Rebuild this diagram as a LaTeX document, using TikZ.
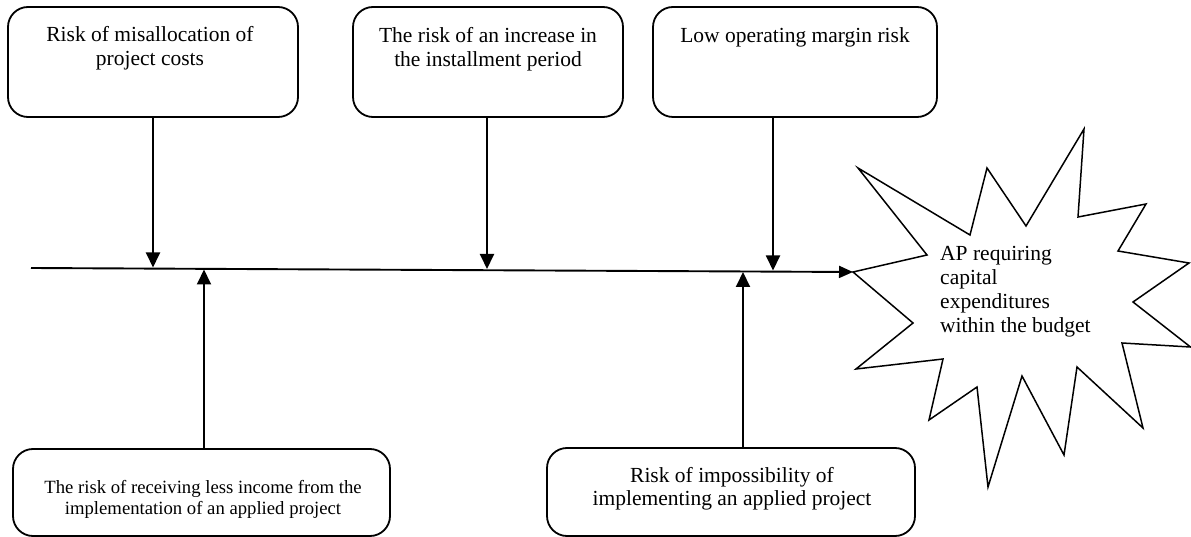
\documentclass[tikz,border=0pt]{standalone}
\usepackage{fontspec}
\setmainfont{Liberation Serif}
\usetikzlibrary{arrows.meta}
\tikzset{
  riskbox/.style={draw, line width=1.8pt, rounded corners=20pt, inner sep=0pt, minimum height=110pt},
  lowbox/.style={draw, line width=1.8pt, rounded corners=20pt, inner sep=0pt},
  txt/.style={inner sep=0pt, align=center, font={\fontsize{21.5}{23.5}\selectfont}},
  smalltxt/.style={inner sep=0pt, align=center, font={\fontsize{18.7}{21}\selectfont}},
  burst/.style={draw, line width=1.5pt, line join=miter},
  arr/.style={line width=1.9pt, -{Triangle[length=15pt,width=14pt]}},
  mainarr/.style={line width=1.9pt, -{Triangle[length=14pt,width=12pt]}}
}
\begin{document}
\begin{tikzpicture}[x=1pt,y=-1pt]
\useasboundingbox (0,0) rectangle (1191,537);
% top boxes
\node[riskbox, minimum width=290pt] (b1) at (153,62) {};
\node[riskbox, minimum width=270pt] (b2) at (488,62) {};
\node[riskbox, minimum width=284pt] (b3) at (795,62) {};
\node[txt, anchor=base] (t1) at (150,65.5) {Risk of misallocation of\\project costs};
\node[txt, anchor=base] (t2) at (488,66.5) {The risk of an increase in\\the installment period};
\node[txt, anchor=base] (t3) at (795,43) {Low operating margin risk};
% bottom boxes
\node[lowbox, minimum width=377pt, minimum height=87pt] (c1) at (201.5,492.5) {};
\node[lowbox, minimum width=368pt, minimum height=88pt] (c2) at (731,492) {};
\node[smalltxt, anchor=base] (u1) at (203,514) {The risk of receiving less income from the\\implementation of an applied project};
\node[txt, anchor=base] (u2) at (732,505.5) {Risk of impossibility of\\implementing an applied project};
% starburst
\coordinate (burstL) at (853,272);
\draw[burst] (858,168) -- (970,235) -- (987,168) -- (1026,226) -- (1084,129)
  -- (1078,217) -- (1146,204) -- (1118,251) -- (1189,263) -- (1133,302)
  -- (1190.5,347) -- (1122,343) -- (1143,428) -- (1077,367) -- (1064,455)
  -- (1022,376) -- (988,487) -- (977,387) -- (929,420) -- (943,359)
  -- (856,369) -- (913,323) -- (burstL) -- (927,255) -- cycle;
\node[txt, anchor=base west, align=left, font={\fontsize{21.5}{24}\selectfont}] (goal) at (940,332) {AP requiring\\capital\\expenditures\\within the budget};
% spine
\coordinate (start) at (31,268);
\draw[mainarr] (start) -- (burstL);
% points on spine
\coordinate (p1) at (153,267.5);
\coordinate (p2) at (487,269);
\coordinate (p3) at (773,270.5);
\coordinate (q1) at (204,269.5);
\coordinate (q2) at (743,272);
\draw[arr] (b1.south -| p1) -- (p1);
\draw[arr] (b2.south -| p2) -- (p2);
\draw[arr] (b3.south -| p3) -- (p3);
\draw[arr] (c1.north -| q1) -- (q1);
\draw[arr] (c2.north -| q2) -- (q2);
\end{tikzpicture}
\end{document}
